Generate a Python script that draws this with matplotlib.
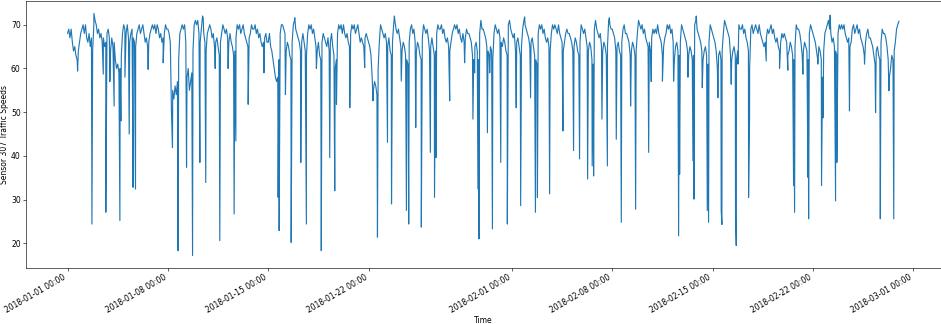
import numpy as np
import pandas as pd
import matplotlib
matplotlib.use("Agg")
import matplotlib.pyplot as plt
import matplotlib.dates as mdates

# readings taken every 2 hours for each day, starting 2018-01-01
start_date = "2018-01-01"
reading_hours = [0, 2, 4, 6, 8, 10, 12, 14, 16, 18, 20, 22]
daily_speeds = [
    [68, 69, 67, 69, 66, 64, 65, 63, 62, 64, 66, 68],
    [69, 70, 68, 70, 67, 66, 68, 65, 67, 64, 70, 71],
    [70, 68, 69, 67, 68, 66, 67, 65, 66, 68, 69, 67],
    [64, 67, 65, 66, 62, 60, 61, 59, 60, 63, 68, 70],
    [69, 68, 70, 67, 66, 68, 69, 67, 66, 65, 68, 69],
    [70, 68, 69, 70, 68, 66, 67, 65, 66, 68, 69, 70],
    [69, 70, 68, 70, 69, 67, 68, 66, 67, 68, 70, 69],
    [69, 68, 66, 50, 55, 53, 56, 54, 57, 62, 68, 69],
    [70, 69, 70, 66, 58, 60, 55, 57, 59, 64, 70, 71],
    [70, 71, 68, 66, 69, 72, 68, 66, 64, 68, 69, 70],
    [69, 67, 68, 65, 66, 67, 65, 63, 66, 68, 70, 69],
    [68, 69, 67, 66, 68, 66, 65, 63, 64, 67, 70, 69],
    [70, 68, 69, 70, 68, 67, 66, 65, 67, 68, 70, 69],
    [69, 70, 68, 69, 67, 68, 66, 65, 66, 67, 68, 66],
    [66, 68, 65, 64, 62, 60, 58, 57, 58, 62, 68, 70],
    [70, 69, 68, 64, 66, 65, 63, 62, 66, 70, 71, 69],
    [68, 67, 66, 64, 66, 68, 66, 64, 63, 68, 70, 69],
    [70, 68, 69, 67, 65, 64, 66, 63, 62, 66, 68, 67],
    [66, 65, 67, 64, 66, 68, 65, 63, 60, 62, 68, 70],
    [69, 70, 68, 70, 68, 67, 68, 66, 65, 68, 70, 69],
    [70, 68, 69, 70, 68, 66, 67, 66, 65, 67, 68, 67],
    [66, 65, 63, 58, 55, 57, 56, 54, 60, 66, 70, 69],
    [68, 67, 68, 66, 65, 67, 64, 63, 66, 70, 71, 69],
    [68, 69, 67, 65, 64, 66, 65, 63, 62, 61, 66, 69],
    [70, 68, 69, 66, 64, 66, 65, 63, 62, 67, 70, 69],
    [68, 69, 67, 64, 65, 67, 65, 63, 64, 68, 70, 69],
    [69, 70, 68, 69, 67, 66, 67, 65, 64, 66, 68, 69],
    [70, 69, 70, 68, 69, 67, 66, 68, 66, 67, 69, 68],
    [68, 67, 66, 63, 62, 65, 66, 64, 62, 68, 71, 69],
    [69, 68, 67, 65, 64, 63, 65, 64, 62, 68, 70, 69],
    [68, 69, 67, 66, 65, 67, 66, 64, 63, 70, 71, 69],
    [68, 67, 68, 64, 66, 67, 65, 63, 65, 69, 71, 70],
    [69, 68, 67, 65, 66, 67, 65, 63, 62, 61, 68, 70],
    [69, 70, 68, 69, 67, 66, 67, 65, 64, 68, 70, 69],
    [70, 69, 68, 70, 68, 67, 66, 64, 66, 68, 69, 68],
    [68, 67, 66, 64, 65, 67, 66, 64, 63, 66, 70, 69],
    [68, 69, 67, 65, 64, 66, 65, 62, 61, 69, 71, 69],
    [68, 67, 68, 65, 64, 66, 65, 63, 65, 71, 70, 69],
    [69, 68, 67, 64, 65, 66, 64, 63, 66, 69, 70, 68],
    [68, 67, 66, 63, 64, 66, 65, 63, 64, 68, 71, 70],
    [69, 70, 68, 69, 67, 66, 65, 66, 64, 67, 69, 68],
    [69, 68, 70, 68, 67, 66, 63, 65, 67, 68, 70, 69],
    [70, 68, 69, 66, 62, 65, 66, 64, 63, 66, 70, 69],
    [68, 67, 66, 64, 63, 65, 64, 62, 63, 70, 71, 69],
    [68, 67, 66, 64, 62, 64, 65, 63, 61, 66, 70, 69],
    [68, 67, 66, 64, 60, 63, 64, 62, 64, 68, 71, 70],
    [69, 68, 67, 63, 62, 64, 65, 63, 62, 64, 70, 69],
    [69, 70, 68, 69, 67, 66, 64, 60, 69, 70, 68, 69],
    [70, 69, 68, 70, 68, 67, 66, 65, 66, 67, 69, 68],
    [69, 70, 68, 69, 67, 66, 67, 65, 64, 66, 68, 67],
    [68, 67, 66, 63, 64, 66, 65, 63, 62, 65, 70, 69],
    [69, 68, 66, 63, 64, 66, 65, 64, 62, 68, 70, 69],
    [68, 67, 66, 64, 62, 65, 64, 62, 58, 64, 68, 69],
    [70, 71, 69, 68, 66, 67, 65, 64, 63, 68, 70, 69],
    [70, 69, 70, 68, 67, 66, 67, 65, 66, 69, 70, 68],
    [69, 70, 68, 69, 67, 66, 65, 63, 66, 68, 69, 67],
    [67, 66, 65, 63, 61, 64, 65, 63, 62, 66, 69, 68],
    [68, 67, 65, 62, 58, 60, 63, 62, 64, 66, 69, 70],
]

# sharp drops / spikes, as days since start_date
event_days = [
    0.70, 1.70, 1.84, 2.49, 2.67, 2.95, 3.25, 3.65, 3.72, 4.00,
    4.30, 4.57, 4.74, 5.62, 6.67, 7.32, 7.71, 8.30, 8.72, 9.23,
    9.46, 9.64, 10.30, 10.62, 11.20, 11.62, 11.74, 12.60, 13.70, 14.69,
    14.76, 15.20, 15.60, 15.85, 16.27, 16.66, 17.36, 17.70, 18.29, 18.64,
    18.76, 19.69, 20.73, 21.31, 21.62, 22.32, 22.60, 22.80, 23.28, 23.64,
    23.80, 24.29, 24.68, 25.31, 25.60, 25.70, 26.66, 27.70, 28.28, 28.40,
    28.63, 28.70, 29.29, 29.45, 29.64, 30.22, 30.68, 31.30, 31.61, 31.89,
    32.30, 32.64, 32.78, 33.63, 34.56, 35.30, 35.72, 36.28, 36.60, 36.70,
    37.28, 37.66, 37.80, 38.28, 38.63, 39.28, 39.63, 40.54, 40.72, 41.50,
    42.28, 42.63, 42.70, 43.28, 43.63, 43.70, 43.86, 44.28, 44.63, 44.72,
    45.37, 45.60, 45.65, 46.30, 46.60, 46.65, 46.77, 47.51, 47.58, 48.74,
    49.67, 50.25, 50.65, 50.72, 51.30, 51.65, 51.70, 52.34, 52.60, 52.70,
    53.20, 53.58, 53.67, 54.55, 55.60, 56.37, 56.70, 57.30, 57.64, 58.00,
]
event_speeds = [
    59.4, 24.4, 72.6, 58.7, 27.1, 57.0, 51.4, 25.2, 48.0, 58.0,
    45.0, 32.8, 32.4, 59.8, 61.3, 41.9, 18.3, 37.4, 17.2, 38.5,
    71.6, 33.9, 60.0, 20.6, 60.0, 26.7, 43.4, 51.8, 59.0, 30.5,
    22.9, 54.0, 20.2, 71.6, 38.5, 24.4, 60.0, 18.3, 39.6, 32.0,
    51.8, 51.0, 60.2, 52.6, 21.4, 43.1, 29.0, 72.0, 57.1, 27.5,
    24.4, 46.5, 23.7, 40.8, 30.5, 39.6, 52.6, 61.3, 48.4, 59.0,
    32.4, 21.0, 45.3, 59.0, 23.3, 38.5, 24.4, 51.0, 28.6, 71.8,
    53.3, 27.1, 30.5, 31.3, 45.7, 41.2, 39.3, 34.7, 37.7, 35.4,
    48.4, 37.7, 71.6, 43.8, 24.8, 51.4, 27.8, 40.8, 57.0, 57.1,
    57.1, 21.7, 35.8, 58.0, 38.9, 30.1, 72.0, 55.6, 27.5, 24.8,
    53.3, 27.5, 24.3, 56.4, 25.9, 19.5, 61.0, 30.5, 49.0, 61.7,
    60.0, 59.6, 33.2, 27.1, 58.7, 35.1, 25.6, 61.0, 33.2, 48.7,
    72.2, 29.7, 38.5, 50.3, 61.0, 49.9, 25.6, 54.9, 25.6, 70.8,
]

# merge regular readings and events into one time-ordered series
days = []
speeds = []
for i, row in enumerate(daily_speeds):
    for h, v in zip(reading_hours, row):
        days.append(i + h / 24)
        speeds.append(v)
days += event_days
speeds += event_speeds
order = np.argsort(days)
days = np.array(days)[order]
speeds = np.array(speeds)[order]
times = pd.Timestamp(start_date) + pd.to_timedelta(days, unit="D")

dpi = 941 / 17.2
fig, ax = plt.subplots(figsize=(17.2, 324 / dpi), dpi=dpi)
ax.plot(times, speeds, color="#1f77b4", linewidth=1.5)

ax.xaxis.set_major_locator(mdates.DayLocator(bymonthday=[1, 8, 15, 22]))
ax.xaxis.set_major_formatter(mdates.DateFormatter("%Y-%m-%d %H:%M"))
fig.autofmt_xdate()
ax.set_xlabel("Time", labelpad=2)
ax.set_ylabel("Sensor 307 Traffic Speeds", labelpad=3)

fig.subplots_adjust(left=26 / 941, right=940.5 / 941, bottom=0.174, top=0.996)
fig.savefig("out.png", dpi=dpi)
